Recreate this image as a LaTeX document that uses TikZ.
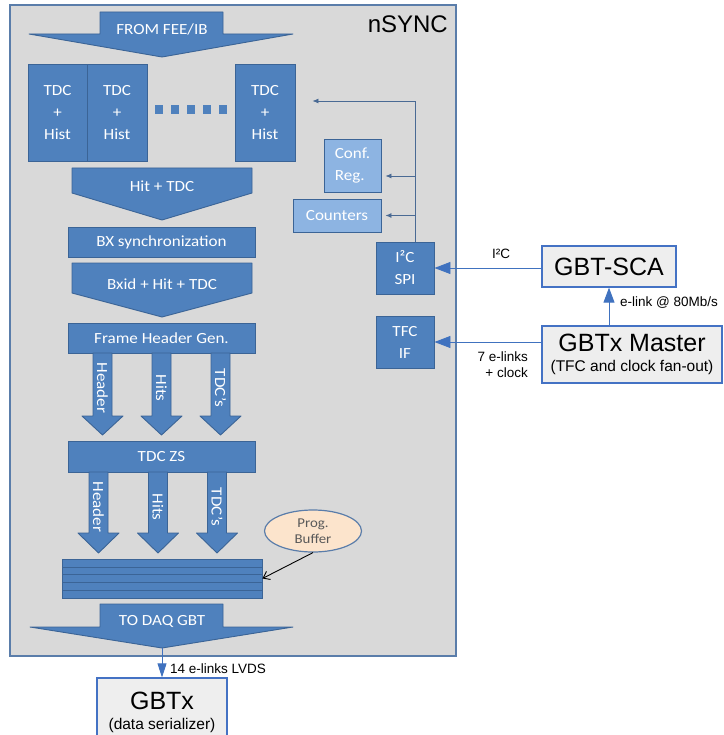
\documentclass[tikz,border=0pt]{standalone}
\usepackage{fontspec}
\setmainfont{Liberation Sans}
\newfontfamily\calib[FakeStretch=1.1]{Carlito}
\usetikzlibrary{arrows.meta,calc,positioning,shapes.geometric}
\definecolor{blkfill}{HTML}{4F81BD}
\definecolor{blkedge}{HTML}{3B6496}
\definecolor{blklight}{HTML}{8DB4E2}
\definecolor{chipgray}{HTML}{D9D9D9}
\definecolor{chipedge}{HTML}{5A7DAA}
\definecolor{extfill}{HTML}{EEEEEE}
\definecolor{extedge}{HTML}{4472C4}
\definecolor{peach}{HTML}{FCE4CC}
\definecolor{linkblue}{HTML}{4072BF}
\definecolor{cfgblue}{HTML}{4A6A94}
\tikzset{
  blk/.style={draw=blkedge,fill=blkfill,line width=0.9pt,text=white,inner sep=0pt,align=center,font=\calib\fontsize{15.5}{22}\selectfont},
  blk-l/.style={blk,fill=blklight},
  blkarrow/.style={draw=blkedge,fill=blkfill,line width=0.9pt,line join=round},
  blklbl/.style={text=white,inner sep=0pt,font=\calib\fontsize{15.5}{18}\selectfont},
  ext/.style={draw=extedge,fill=extfill,line width=1.3pt,inner sep=0pt,align=center,font=\fontsize{15.5}{20}\selectfont},
  lbl/.style={inner sep=0pt,font=\fontsize{13.5}{16}\selectfont},
  cfgline/.style={-{Latex[length=6pt,width=5pt]},cfgblue,line width=0.8pt},
  link/.style={-{Triangle[length=16pt,width=12pt]},linkblue,line width=0.9pt},
  bufarrow/.style={-{Straight Barb[length=6pt,width=9pt]},black,line width=0.9pt},
}

\begin{document}
\begin{tikzpicture}[x=1pt,y=-1pt]
  \useasboundingbox (0,0) rectangle (723,735);

  % CHIP: nSYNC
  \draw[fill=chipgray,draw=chipedge,line width=1.5pt] (10,5) rectangle (456,656);
  \node[anchor=east,inner sep=0pt,font=\fontsize{24}{28}\selectfont] (nsync) at (448,24) {nSYNC};

  % INPUT STAGE
  \draw[blkarrow] (100,12) -- (223,12) -- (223,34) -- (293,34) -- (162,57) -- (29,34) -- (100,34) -- cycle;
  \node[blklbl] (fromfee) at (162,29) {FROM FEE/IB};

  \node[blk,minimum width=59pt,minimum height=97pt] (tdc1) at (57.5,112.5) {TDC\\+\\Hist};
  \node[blk,minimum width=60pt,minimum height=97pt] (tdc2) at (117,112.5)  {TDC\\+\\Hist};
  \node[blk,minimum width=60pt,minimum height=97pt] (tdc3) at (265,112.5)  {TDC\\+\\Hist};
  \foreach \dx in {159,175,191,207,223}
    \node[fill=blkfill,minimum width=8pt,minimum height=9pt,inner sep=0pt] (dot\dx) at (\dx,109.5) {};

  % SYNCHRONISATION
  \draw[blkarrow] (72,168) -- (252,168) -- (252,193) -- (162,220) -- (72,193) -- cycle;
  \node[blklbl] (hittdc) at (162,186) {Hit + TDC};
  \node[blk,minimum width=187pt,minimum height=30pt] (bxsync) at (161.5,242) {BX synchronization};
  \draw[blkarrow] (72,263) -- (252,263) -- (252,293) -- (162,317) -- (72,293) -- cycle;
  \node[blklbl] (bxidtdc) at (162,284) {Bxid + Hit + TDC};

  % FRAMING AND ZERO SUPPRESSION
  \node[blk,minimum width=187pt,minimum height=30pt] (framehdr) at (161.5,338) {Frame Header Gen.};
  \foreach \cx/\txt [count=\i] in {102.5/Header,161.5/Hits,220.5/TDC’s} {
    \draw[blkarrow] (\cx-9.5,353) -- (\cx+9.5,353) -- (\cx+9.5,416) -- (\cx+20.5,416)
      -- (\cx,435) -- (\cx-20.5,416) -- (\cx-9.5,416) -- cycle;
    \node[blklbl,rotate=-90] (fhg\i) at (\cx,388) {\txt};
  }
  \node[blk,minimum width=187pt,minimum height=31pt] (tdczs) at (161.5,456.5) {TDC ZS};
  \foreach \cx/\txt [count=\i] in {98.5/Header,158/Hits,217/TDC’s} {
    \draw[blkarrow] (\cx-9.5,472) -- (\cx+9.5,472) -- (\cx+9.5,533) -- (\cx+20.5,533)
      -- (\cx,553) -- (\cx-20.5,533) -- (\cx-9.5,533) -- cycle;
    \node[blklbl,rotate=-90] (zs\i) at (\cx,507) {\txt};
  }

  % OUTPUT BUFFER
  \node[blk,minimum width=200pt,minimum height=39pt] (buffer) at (162,578.5) {};
  \foreach \yy in {567,574.5,582,590}
    \draw[blkedge,line width=0.9pt] (62,\yy) -- (262,\yy);
  \node[ellipse,draw=chipedge,fill=peach,line width=1.2pt,minimum width=97pt,minimum height=42pt,
        inner sep=0pt,align=center,text=black!65,font=\calib\fontsize{13.5}{15.5}\selectfont] (progbuf) at (313,531) {Prog.\\Buffer};
  \draw[bufarrow] (progbuf.south) -- (buffer.east);

  \draw[blkarrow] (100,604) -- (223,604) -- (223,627) -- (293,627) -- (162,648) -- (30,627) -- (100,627) -- cycle;
  \node[blklbl] (todaq) at (162,621) {TO DAQ GBT};
  \coordinate (daqtip) at (162,648);

  % SLOW CONTROL
  \node[blk-l,minimum width=57pt,minimum height=53pt,align=left] (confreg) at (352.5,165.5) {Conf.\\Reg.};
  \node[blk-l,minimum width=88pt,minimum height=33pt] (counters) at (337,215.5) {Counters};
  \node[blk,minimum width=58pt,minimum height=52pt] (i2cspi) at (405,268) {I²C\\SPI};
  \node[blk,minimum width=58pt,minimum height=52pt] (tfcif) at (405,342) {TFC\\IF};

  \coordinate (cfgbus) at (415,101);
  \coordinate (tapconf) at (415,176);
  \draw[cfgline] (i2cspi.north -| cfgbus) -- (cfgbus) -- ([xshift=17pt]tdc3.east |- cfgbus);
  \draw[cfgline,shorten >=4pt] (tapconf) -- (tapconf -| confreg.east);
  \draw[cfgline,shorten >=4pt] (cfgbus |- counters) -- (counters.east);

  % EXTERNAL CHIPS
  \node[ext,minimum width=134pt,minimum height=41pt,font=\fontsize{25}{28}\selectfont] (gbtsca) at (609,266.5) {GBT-SCA};
  \node[ext,minimum width=180pt,minimum height=57pt] (gbtxmst) at (632,354.5)
    {{\fontsize{25}{28}\selectfont GBTx Master}\\(TFC and clock fan-out)};
  \node[ext,minimum width=130pt,minimum height=69pt] (gbtx) at (162,712.5)
    {{\fontsize{25}{28}\selectfont GBTx}\\(data serializer)};

  \draw[link] (gbtsca.west |- i2cspi.east) -- (i2cspi.east);
  \draw[link] (gbtxmst.west |- tfcif.east) -- (tfcif.east);
  \draw[link,-{Triangle[length=15pt,width=11pt]}] (gbtsca.south |- gbtxmst.north) -- (gbtsca.south);
  \draw[link,-{Triangle[length=14pt,width=9pt]}] (daqtip) -- (gbtx.north);

  \node[lbl] (lbli2c) at (501,254) {I²C};
  \node[lbl,anchor=west] (lblelink) at (620,303) {e-link @ 80Mb/s};
  \node[lbl,anchor=east,align=right] (lbltfc) at (528,365) {7 e-links\\+ clock};
  \node[lbl,anchor=west] (lbldaq) at (170,669) {14 e-links LVDS};

\end{tikzpicture}
\end{document}
